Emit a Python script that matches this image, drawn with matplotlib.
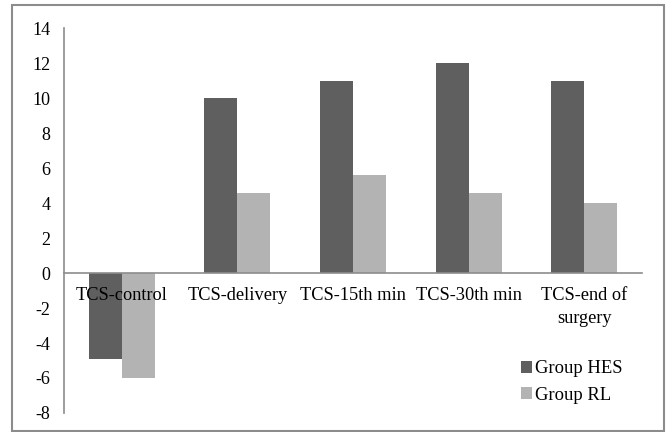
import matplotlib
matplotlib.use("Agg")
import matplotlib.pyplot as plt
from matplotlib.patches import Rectangle
import numpy as np

categories = ["TCS-control", "TCS-delivery", "TCS-15th min", "TCS-30th min", "TCS-end of\nsurgery"]
group_hes = [-4.9, 10, 11, 12, 11]
group_rl = [-6.0, 4.6, 5.6, 4.6, 4.0]

plt.rcParams['font.family'] = ['Liberation Serif', 'DejaVu Serif']
plt.rcParams['axes.unicode_minus'] = False
plt.rcParams['xtick.labelsize'] = 13.2
plt.rcParams['ytick.labelsize'] = 13

fig = plt.figure(figsize=(6.67, 4.32), dpi=100)
ax = fig.add_axes([0.096, 0.044, 0.8665, 0.891])

x = np.arange(len(categories))
w = 0.285
ax.bar(x - w / 2, group_hes, w, color="#5f5f5f", label="Group HES")
ax.bar(x + w / 2, group_rl, w, color="#b3b3b3", label="Group RL")

ax.set_xlim(-0.5, len(categories) - 0.5)
ax.set_ylim(-8, 14)
ax.set_yticks(range(-8, 15, 2))
ax.set_xticks(x)
ax.set_xticklabels(categories)

for s in ["top", "right"]:
    ax.spines[s].set_visible(False)
ax.spines["bottom"].set_position(("data", 0))
ax.spines["bottom"].set_color("#8c8c8c")
ax.spines["left"].set_color("#8c8c8c")
ax.spines["left"].set_linewidth(1.2)
ax.spines["bottom"].set_linewidth(1.2)
ax.tick_params(axis="both", length=0)
ax.tick_params(axis="y", pad=10)
ax.tick_params(axis="x", pad=10)
for lab in ax.get_xticklabels():
    lab.set_linespacing(1.45)

ax.legend(loc="lower right", bbox_to_anchor=(0.996, -0.019), frameon=False, fontsize=13.4,
          handlelength=0.6, handleheight=0.6, handletextpad=0.2, labelspacing=0.5)

fig.patches.append(Rectangle((0.018, 0.003), 0.977, 0.985, transform=fig.transFigure,
                             fill=False, edgecolor="#8c8c8c", linewidth=1.5))

fig.savefig("out.png", dpi=100)
